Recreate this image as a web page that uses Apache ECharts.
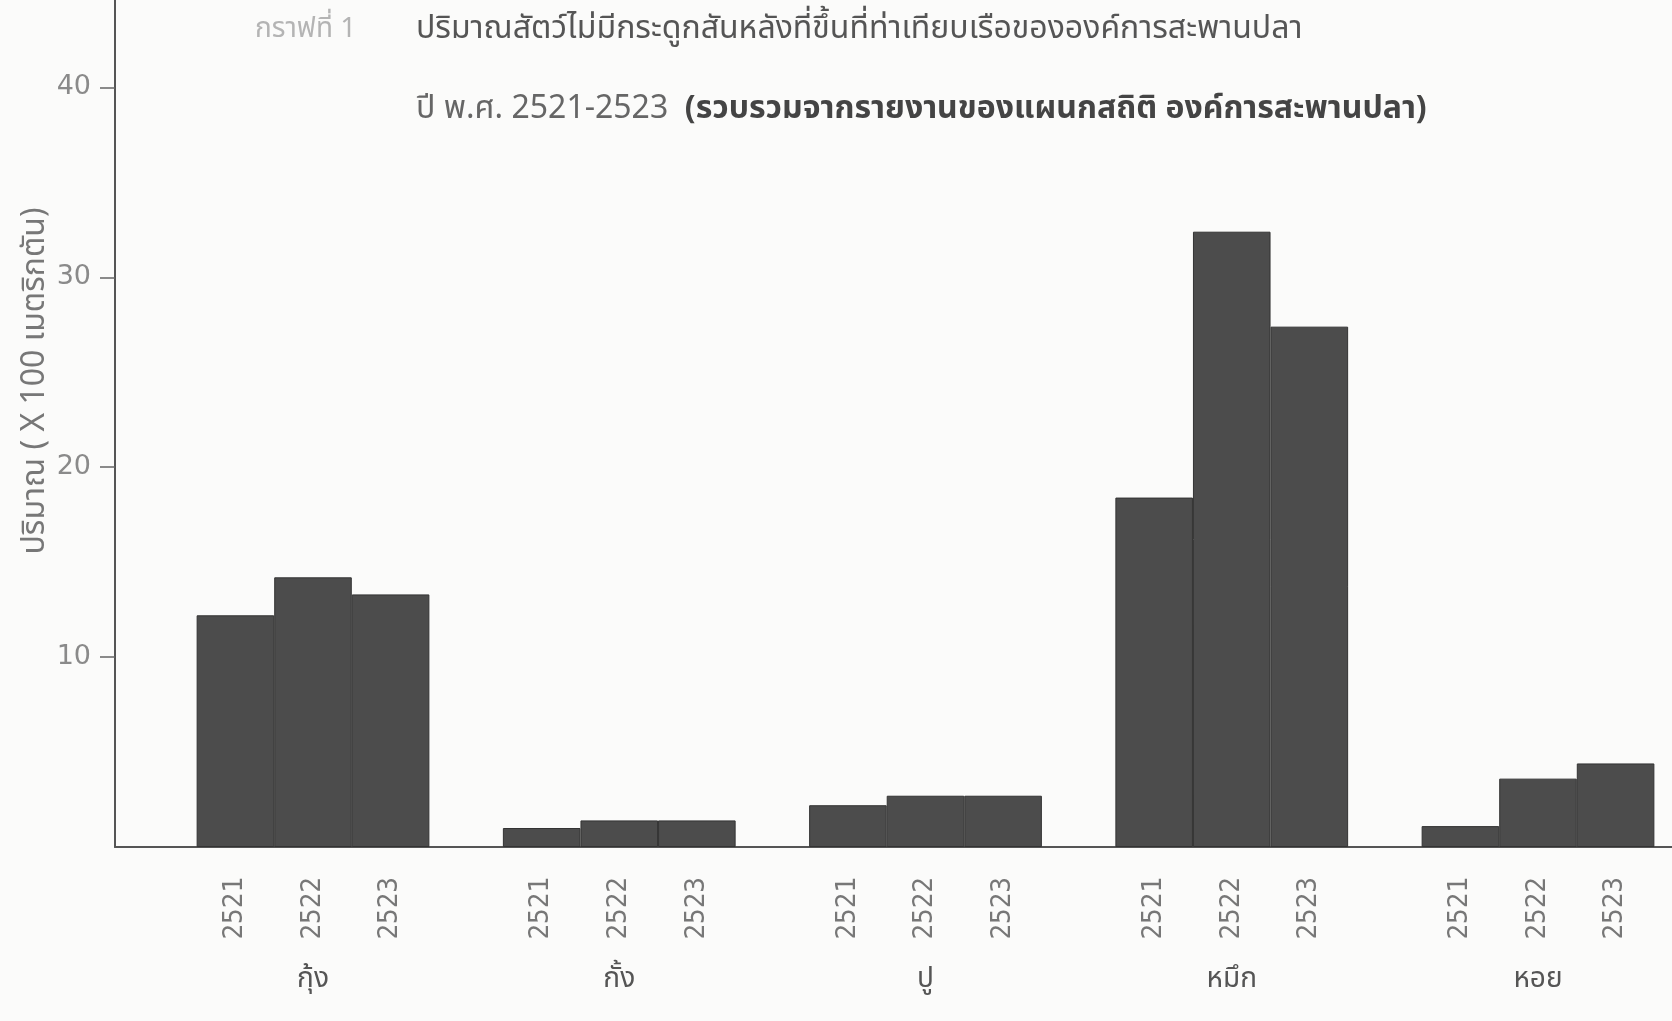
<!DOCTYPE html>
<html>
<head>
<meta charset="utf-8">
<script src="https://cdn.jsdelivr.net/npm/echarts@6/dist/echarts.min.js"></script>
<style>
html,body{margin:0;padding:0;background:#fbfbfa;}
#chart{width:1672px;height:1021px;}
</style>
</head>
<body>
<div id="chart"></div>
<script>
const categories = ['กุ้ง', 'กั้ง', 'ปู', 'หมึก', 'หอย'];
const years = ['2521', '2522', '2523'];
const v2521 = [12.2, 1.0, 2.2, 18.4, 1.1];
const v2522 = [14.2, 1.4, 2.7, 32.4, 3.6];
const v2523 = [13.3, 1.4, 2.7, 27.4, 4.4];
const yTicks = [10, 20, 30, 40];
const titleLabel = 'กราฟที่ 1';
const titleLine1 = 'ปริมาณสัตว์ไม่มีกระดูกสันหลังที่ขึ้นที่ท่าเทียบเรือขององค์การสะพานปลา';
const titleLine2a = 'ปี พ.ศ. 2521-2523';
const titleLine2b = '(รวบรวมจากรายงานของแผนกสถิติ องค์การสะพานปลา)';
const yName = 'ปริมาณ ( X 100 เมตริกตัน)';

const seriesValues = [v2521, v2522, v2523];
const FONT = "'Noto Sans Thai', 'Noto Sans', 'DejaVu Sans', sans-serif";
const NUMFONT = "'DejaVu Sans Mono', monospace";
const YMAX = 44.6;

const chart = echarts.init(document.getElementById('chart'), null, {renderer: 'canvas'});
const option = {
  backgroundColor: '#fbfbfa',
  animation: false,
  title: [
    {text: titleLabel, left: 250, top: 12, textStyle: {fontFamily: FONT, fontSize: 28, fontWeight: 'normal', color: '#b4b4b4'}},
    {text: titleLine1, left: 411, top: 11, textStyle: {fontFamily: FONT, fontSize: 32, fontWeight: 'normal', color: '#555'}},
    {text: '{n|' + titleLine2a + '}  {b|' + titleLine2b + '}', left: 411, top: 91,
     textStyle: {fontFamily: FONT, fontSize: 32, fontWeight: 'normal', color: '#555',
       rich: {n: {fontFamily: FONT, fontSize: 32, fontWeight: 'normal', color: '#666'},
              b: {fontFamily: FONT, fontSize: 32, fontWeight: 'bold', color: '#444'}}}}
  ],
  graphic: [
    {type: 'text', x: 38, y: 381, rotation: Math.PI / 2,
     style: {text: yName, fontFamily: FONT, fontSize: 32, fill: '#777', align: 'center', verticalAlign: 'middle'}}
  ],
  grid: [
    {left: 115, right: 0, top: 0, bottom: 174},
    {left: 313, right: 134, top: 0, bottom: 174}
  ],
  xAxis: [
    {gridIndex: 0, type: 'value', min: 0, max: 1,
     axisLine: {show: true, lineStyle: {color: '#555', width: 2}},
     axisTick: {show: false}, axisLabel: {show: false}, splitLine: {show: false}},
    {gridIndex: 1, type: 'category', data: categories, boundaryGap: false,
     axisLine: {show: false}, axisTick: {show: false},
     axisLabel: {margin: 120, fontFamily: FONT, fontSize: 28, color: '#555'}}
  ],
  yAxis: [
    {gridIndex: 0, type: 'value', min: 0, max: YMAX, interval: 10,
     axisLine: {show: true, lineStyle: {color: '#555', width: 2}},
     axisTick: {show: true, length: 15, customValues: yTicks, lineStyle: {color: '#666', width: 1.5}},
     axisLabel: {customValues: yTicks, margin: 24, fontFamily: "'DejaVu Sans', sans-serif", fontSize: 27, color: '#8a8a8a'},
     splitLine: {show: false}},
    {gridIndex: 1, type: 'value', min: 0, max: YMAX, show: false}
  ],
  series: seriesValues.map((vals, i) => ({
    type: 'bar', name: years[i], xAxisIndex: 1, yAxisIndex: 1, clip: false,
    data: vals, barGap: '0%', barCategoryGap: '24%',
    itemStyle: {color: '#4c4c4c', borderColor: '#333', borderWidth: 1},
    label: {show: true, formatter: years[i], position: ['50%', '100%'], rotate: 90,
            align: 'right', verticalAlign: 'middle', offset: [-30, 0],
            fontFamily: NUMFONT, fontSize: 26, color: '#777'}
  }))
};
chart.setOption(option);
</script>
</body>
</html>
